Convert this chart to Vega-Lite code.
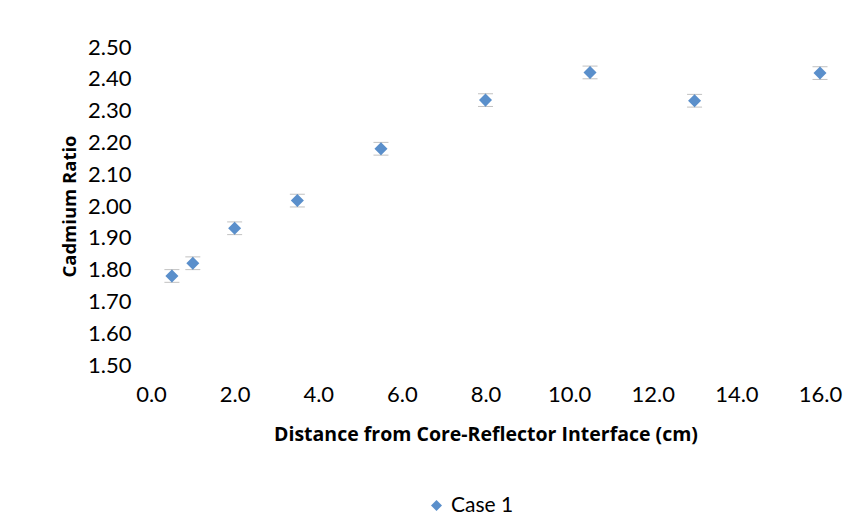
{
  "$schema": "https://vega.github.io/schema/vega-lite/v6.json",
  "width": 669,
  "height": 318,
  "autosize": {"type": "none"},
  "padding": {"left": 151, "top": 47, "right": 25, "bottom": 156},
  "background": "white",
  "config": {
    "view": {"stroke": null},
    "font": "Lato",
    "axis": {"grid": false, "domain": false, "ticks": false, "labelColor": "#000", "titleColor": "#000", "labelFont": "Lato", "titleFont": "Open Sans", "labelOverlap": false}
  },
  "data": {
    "values": [
      {"distance": 0.5, "ratio": 1.78, "lo": 1.76, "hi": 1.80, "series": "Case 1"},
      {"distance": 1.0, "ratio": 1.82, "lo": 1.80, "hi": 1.84, "series": "Case 1"},
      {"distance": 2.0, "ratio": 1.93, "lo": 1.91, "hi": 1.95, "series": "Case 1"},
      {"distance": 3.5, "ratio": 2.017, "lo": 1.997, "hi": 2.037, "series": "Case 1"},
      {"distance": 5.5, "ratio": 2.18, "lo": 2.16, "hi": 2.20, "series": "Case 1"},
      {"distance": 8.0, "ratio": 2.333, "lo": 2.313, "hi": 2.353, "series": "Case 1"},
      {"distance": 10.5, "ratio": 2.42, "lo": 2.40, "hi": 2.44, "series": "Case 1"},
      {"distance": 13.0, "ratio": 2.331, "lo": 2.311, "hi": 2.351, "series": "Case 1"},
      {"distance": 16.0, "ratio": 2.418, "lo": 2.398, "hi": 2.438, "series": "Case 1"}
    ]
  },
  "encoding": {
    "x": {
      "field": "distance", "type": "quantitative",
      "scale": {"domain": [0, 16], "nice": false},
      "axis": {"values": [0, 2, 4, 6, 8, 10, 12, 14, 16], "tickCount": 9, "format": ".1f", "labelFontSize": 22, "labelPadding": 19, "labelOverlap": false, "title": "Distance from Core-Reflector Interface (cm)", "titleFontSize": 19.5, "titleFontWeight": "bold", "titlePadding": 20, "labelFlush": false}
    }
  },
  "layer": [
    {
      "mark": {"type": "rule", "color": "#A6A6A6", "strokeWidth": 1},
      "encoding": {
        "y": {
          "field": "lo", "type": "quantitative",
          "scale": {"domain": [1.5, 2.5], "nice": false, "zero": false},
          "axis": {"values": [1.5, 1.6, 1.7, 1.8, 1.9, 2.0, 2.1, 2.2, 2.3, 2.4, 2.5], "tickCount": 11, "format": ".2f", "labelFontSize": 22, "labelPadding": 20, "labelOverlap": false, "title": "Cadmium Ratio", "titleFontSize": 18.5, "titleFontWeight": "bold", "titlePadding": 8}
        },
        "y2": {"field": "hi"}
      }
    },
    {
      "mark": {"type": "tick", "orient": "horizontal", "color": "#A6A6A6", "size": 15, "thickness": 1},
      "encoding": {"y": {"field": "lo", "type": "quantitative"}}
    },
    {
      "mark": {"type": "tick", "orient": "horizontal", "color": "#A6A6A6", "size": 15, "thickness": 1},
      "encoding": {"y": {"field": "hi", "type": "quantitative"}}
    },
    {
      "mark": {"type": "point", "shape": "diamond", "filled": true, "size": 170, "opacity": 1},
      "encoding": {
        "y": {"field": "ratio", "type": "quantitative"},
        "color": {
          "field": "series", "type": "nominal",
          "scale": {"range": ["#5A8FCB"]},
          "legend": {"title": null, "orient": "none", "legendX": 275, "legendY": 448, "labelFontSize": 21, "labelFont": "Lato", "symbolType": "diamond", "symbolSize": 120, "labelColor": "#000"}
        }
      }
    }
  ]
}
